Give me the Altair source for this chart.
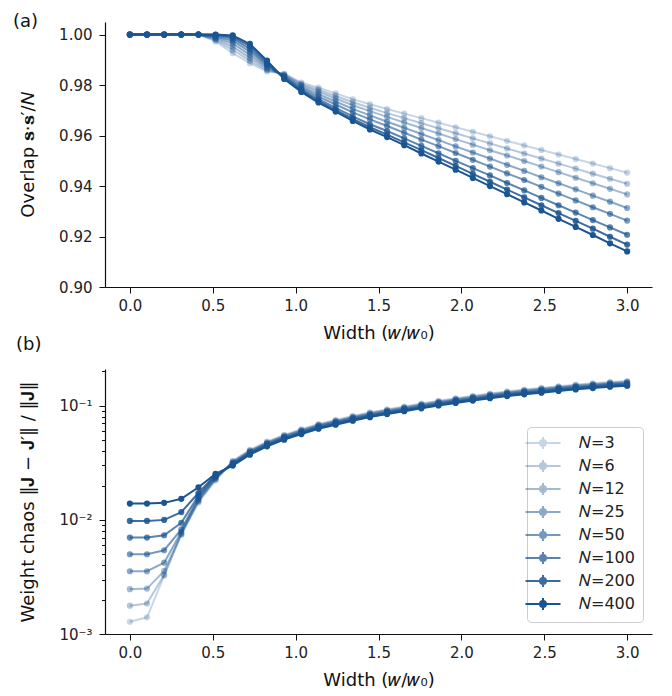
import altair as alt
import pandas as pd

BLUE = "#1b5591"
FONT = "DejaVu Sans"

widths = [0.0, 0.1034, 0.2069, 0.3103, 0.4138, 0.5172, 0.6207, 0.7241, 0.8276, 0.9310,
          1.0345, 1.1379, 1.2414, 1.3448, 1.4483, 1.5517, 1.6552, 1.7586, 1.8621, 1.9655,
          2.0690, 2.1724, 2.2759, 2.3793, 2.4828, 2.5862, 2.6897, 2.7931, 2.8966, 3.0]

sizes = ["𝑁=3", "𝑁=6", "𝑁=12", "𝑁=25", "𝑁=50", "𝑁=100", "𝑁=200", "𝑁=400"]
alphas = [0.24, 0.32, 0.40, 0.50, 0.60, 0.72, 0.86, 1.0]

overlap_N3 = [1.0, 1.0, 1.0, 1.0, 1.0, 0.9973, 0.9927, 0.9887, 0.9854, 0.9846,
              0.9810, 0.9790, 0.9767, 0.9744, 0.9724, 0.9705, 0.9687, 0.9669, 0.9651, 0.9633,
              0.9615, 0.9597, 0.9579, 0.9561, 0.9543, 0.9525, 0.9507, 0.9489, 0.9471, 0.9453]
overlap_N6 = [1.0, 1.0, 1.0, 1.0, 1.0, 0.9978, 0.9940, 0.9897, 0.9859, 0.9843,
              0.9805, 0.9782, 0.9757, 0.9732, 0.9710, 0.9689, 0.9669, 0.9649, 0.9629, 0.9609,
              0.9589, 0.9569, 0.9549, 0.9529, 0.9509, 0.9489, 0.9469, 0.9449, 0.9429, 0.9409]
overlap_N12 = [1.0, 1.0, 1.0, 1.0, 1.0, 0.9983, 0.9952, 0.9908, 0.9865, 0.9840,
               0.9800, 0.9774, 0.9747, 0.9720, 0.9697, 0.9674, 0.9652, 0.9630, 0.9608, 0.9586,
               0.9564, 0.9542, 0.9521, 0.9499, 0.9477, 0.9455, 0.9433, 0.9411, 0.9389, 0.9367]
overlap_N25 = [1.0, 1.0, 1.0, 1.0, 1.0, 0.9988, 0.9965, 0.9920, 0.9871, 0.9837,
               0.9794, 0.9764, 0.9735, 0.9706, 0.9680, 0.9655, 0.9631, 0.9606, 0.9582, 0.9557,
               0.9533, 0.9509, 0.9484, 0.9460, 0.9435, 0.9411, 0.9387, 0.9362, 0.9338, 0.9313]
overlap_N50 = [1.0, 1.0, 1.0, 1.0, 1.0, 0.9992, 0.9976, 0.9932, 0.9878, 0.9834,
               0.9788, 0.9754, 0.9723, 0.9692, 0.9664, 0.9638, 0.9611, 0.9584, 0.9558, 0.9531,
               0.9504, 0.9477, 0.9450, 0.9424, 0.9397, 0.9370, 0.9343, 0.9316, 0.9290, 0.9263]
overlap_N100 = [1.0, 1.0, 1.0, 1.0, 1.0, 0.9996, 0.9985, 0.9943, 0.9884, 0.9830,
                0.9782, 0.9744, 0.9710, 0.9676, 0.9645, 0.9618, 0.9589, 0.9559, 0.9530, 0.9500,
                0.9471, 0.9442, 0.9412, 0.9383, 0.9353, 0.9324, 0.9295, 0.9265, 0.9236, 0.9207]
overlap_N200 = [1.0, 1.0, 1.0, 1.0, 1.0, 0.9999, 0.9992, 0.9954, 0.9891, 0.9827,
                0.9777, 0.9737, 0.9701, 0.9666, 0.9633, 0.9604, 0.9573, 0.9542, 0.9511, 0.9480,
                0.9448, 0.9417, 0.9386, 0.9355, 0.9324, 0.9293, 0.9262, 0.9231, 0.9199, 0.9168]
overlap_N400 = [1.0, 1.0, 1.0, 1.0, 1.0, 1.0, 0.9997, 0.9963, 0.9897, 0.9824,
                0.9773, 0.9731, 0.9695, 0.9658, 0.9624, 0.9594, 0.9562, 0.9529, 0.9497, 0.9465,
                0.9432, 0.9400, 0.9368, 0.9335, 0.9303, 0.9270, 0.9238, 0.9206, 0.9173, 0.9141]

chaos_N3 = [0.00128, 0.0014, 0.00324, 0.0074, 0.0142, 0.0222, 0.0329, 0.0410, 0.0485, 0.0556,
            0.0622, 0.0692, 0.0750, 0.0813, 0.0875, 0.0930, 0.0985, 0.1045, 0.1106, 0.1164,
            0.1221, 0.1279, 0.1337, 0.1386, 0.1433, 0.1483, 0.1531, 0.1573, 0.1615, 0.1647]
chaos_N6 = [0.00177, 0.00185, 0.0033, 0.0075, 0.0145, 0.0226, 0.0324, 0.0405, 0.0478, 0.0548,
            0.0613, 0.0682, 0.0740, 0.0802, 0.0863, 0.0917, 0.0971, 0.1031, 0.1090, 0.1148,
            0.1204, 0.1262, 0.1318, 0.1367, 0.1414, 0.1463, 0.1510, 0.1552, 0.1593, 0.1624]
chaos_N12 = [0.00247, 0.0025, 0.00357, 0.0076, 0.0148, 0.0230, 0.0320, 0.0399, 0.0472, 0.0540,
             0.0605, 0.0673, 0.0730, 0.0791, 0.0851, 0.0904, 0.0958, 0.1017, 0.1075, 0.1132,
             0.1188, 0.1244, 0.1300, 0.1348, 0.1394, 0.1442, 0.1489, 0.1530, 0.1571, 0.1602]
chaos_N25 = [0.00355, 0.00355, 0.00422, 0.00787, 0.0152, 0.0235, 0.0315, 0.0394, 0.0465, 0.0533,
             0.0596, 0.0664, 0.0720, 0.0780, 0.0839, 0.0891, 0.0944, 0.1002, 0.1060, 0.1116,
             0.1171, 0.1227, 0.1282, 0.1329, 0.1375, 0.1422, 0.1469, 0.1509, 0.1549, 0.1579]
chaos_N50 = [0.0050, 0.0050, 0.00542, 0.00826, 0.0157, 0.0240, 0.0311, 0.0388, 0.0459, 0.0525,
             0.0588, 0.0654, 0.0709, 0.0769, 0.0827, 0.0879, 0.0931, 0.0988, 0.1045, 0.1100,
             0.1154, 0.1210, 0.1264, 0.1310, 0.1355, 0.1402, 0.1448, 0.1487, 0.1527, 0.1557]
chaos_N100 = [0.0070, 0.0070, 0.00733, 0.00944, 0.0163, 0.0244, 0.0307, 0.0383, 0.0452, 0.0518,
              0.0580, 0.0645, 0.0700, 0.0758, 0.0816, 0.0867, 0.0918, 0.0975, 0.1031, 0.1086,
              0.1139, 0.1193, 0.1247, 0.1293, 0.1337, 0.1383, 0.1428, 0.1467, 0.1506, 0.1536]
chaos_N200 = [0.0098, 0.0098, 0.0100, 0.0117, 0.0172, 0.0249, 0.0303, 0.0378, 0.0447, 0.0512,
              0.0572, 0.0637, 0.0691, 0.0749, 0.0805, 0.0856, 0.0907, 0.0962, 0.1018, 0.1072,
              0.1124, 0.1178, 0.1231, 0.1276, 0.1320, 0.1366, 0.1410, 0.1449, 0.1487, 0.1516]
chaos_N400 = [0.0139, 0.0139, 0.0141, 0.0153, 0.0193, 0.0253, 0.0299, 0.0373, 0.0441, 0.0505,
              0.0565, 0.0629, 0.0682, 0.0739, 0.0795, 0.0845, 0.0895, 0.0950, 0.1005, 0.1058,
              0.1110, 0.1163, 0.1215, 0.1260, 0.1303, 0.1348, 0.1392, 0.1430, 0.1468, 0.1497]

overlaps = [overlap_N3, overlap_N6, overlap_N12, overlap_N25, overlap_N50, overlap_N100, overlap_N200, overlap_N400]
chaoses = [chaos_N3, chaos_N6, chaos_N12, chaos_N25, chaos_N50, chaos_N100, chaos_N200, chaos_N400]

rows = []
for k, lab in enumerate(sizes):
    for i, w in enumerate(widths):
        rows.append({"w": w, "N": lab, "order": k, "overlap": overlaps[k][i], "chaos": chaoses[k][i]})
df = pd.DataFrame(rows)

W, H = 547, 265
x_enc = alt.X("w:Q", scale=alt.Scale(domain=[-0.15, 3.15], nice=False, zero=False),
              axis=alt.Axis(title="Width (𝑤/𝑤₀)", values=[0, 0.5, 1, 1.5, 2, 2.5, 3], format=".1f"))

legend = alt.Legend(
    title=None, orient="none", legendX=422, legendY=58,
    symbolType="M-3.5,0H3.5M0,-1.2V1.2M0.6,0A0.6,0.6,0,1,1,-0.6,0A0.6,0.6,0,1,1,0.6,0Z",
    symbolSize=100, symbolStrokeWidth=2, symbolFillColor=BLUE, symbolStrokeColor=BLUE,
    labelFontSize=16, labelFont=FONT, labelColor="#222222", labelOffset=28,
    padding=8, rowPadding=3, strokeColor="#cccccc", fillColor="white", cornerRadius=4,
)

op_scale = alt.Scale(type="ordinal", domain=sizes, range=alphas)


def panel(field, y_axis, y_scale, leg, label, label_x, label_y):
    base = alt.Chart(df).encode(
        x=x_enc,
        y=alt.Y(f"{field}:Q", scale=y_scale, axis=y_axis),
        detail="N:O",
        order=alt.Order("order:Q"),
    )
    lines = base.mark_line(color=BLUE, strokeWidth=2).encode(
        opacity=alt.Opacity("N:O", scale=op_scale, legend=leg, sort=sizes))
    pts = base.mark_circle(color=BLUE, size=38).encode(
        opacity=alt.Opacity("N:O", scale=op_scale, legend=None, sort=sizes))
    tag = alt.Chart(pd.DataFrame({"t": [label]})).mark_text(
        font=FONT, fontSize=18, align="left", baseline="middle", color="#111111"
    ).encode(text="t:N", x=alt.value(label_x), y=alt.value(label_y))
    return alt.layer(lines, pts, tag).properties(width=W, height=H)


top_axis = alt.Axis(title="Overlap 𝐬·𝐬′/𝑁", values=[0.90, 0.92, 0.94, 0.96, 0.98, 1.00],
                    format=".2f", titleX=-68)
top = panel("overlap", top_axis, alt.Scale(domain=[0.9, 1.005], nice=False, zero=False),
            None, "(a)", -92, 0)

major_test = "abs(datum.value-0.1)<1e-9 || abs(datum.value-0.01)<1e-9 || abs(datum.value-0.001)<1e-9"
bot_axis = alt.Axis(
    title="Weight chaos ‖𝐉 − 𝐉′‖ / ‖𝐉‖",
    values=[0.001, 0.002, 0.003, 0.004, 0.005, 0.006, 0.007, 0.008, 0.009,
            0.01, 0.02, 0.03, 0.04, 0.05, 0.06, 0.07, 0.08, 0.09, 0.1, 0.2],
    labelExpr="abs(datum.value-0.1)<1e-9 ? '10⁻¹' : abs(datum.value-0.01)<1e-9 ? '10⁻²' : abs(datum.value-0.001)<1e-9 ? '10⁻³' : ''",
    labelOverlap=False, labelBound=False,
    tickSize={"condition": {"test": major_test, "value": 6}, "value": 3.5},
    titleX=-68,
)
bottom = panel("chaos", bot_axis, alt.Scale(type="log", domain=[0.001, 0.21], nice=False),
               legend, "(b)", -89, -24)

chart = alt.vconcat(top, bottom, spacing=-6).resolve_scale(opacity="independent").resolve_legend(
    opacity="independent"
).properties(
    padding={"left": 5, "top": 5, "right": 5, "bottom": 5}, background="white"
).configure_view(stroke=None).configure_axis(
    grid=False, domainColor="#111111", tickColor="#111111", labelColor="#222222",
    titleColor="#111111", labelFont=FONT, titleFont=FONT, labelFontSize=15, titleFontSize=18,
    titleFontWeight="normal", tickSize=6, titlePadding=11, domainWidth=1.2,
).configure_axisX(labelPadding=5).configure_axisY(labelPadding=7)

chart.save("out.html", embed_options={"renderer": "svg", "actions": False})
